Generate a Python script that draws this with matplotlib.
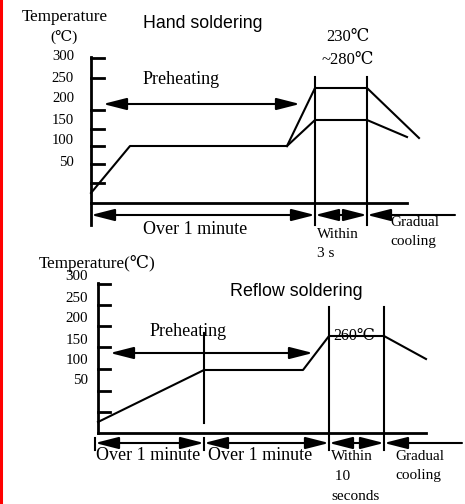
import matplotlib.pyplot as plt

# ---- data (schematic, in drawing units of the original figure) ----
temp_labels = ["300", "250", "200", "150", "100", "50"]

# hand soldering profile
hand_x = [91, 130, 287]
hand_y = [193, 146, 146]
hand_upper_x = [287, 315, 367, 419]
hand_upper_y = [146, 88, 88, 138]
hand_lower_x = [287, 315, 367, 407]
hand_lower_y = [146, 120, 120, 137]
hand_label_y = [57, 78, 99, 120, 141, 162]
hand_ticks = [58, 78, 110, 129, 146, 164, 183]
hand_stages = [91, 315, 367, 455]
hand_stage_text = ["Over 1 minute", "Within\n3 s", "Gradual\ncooling"]

# reflow soldering profile
reflow_x = [98, 204, 303, 329, 384, 426]
reflow_y = [422, 370, 370, 336, 336, 359]
reflow_label_y = [277, 298, 319, 340, 361, 381]
reflow_ticks = [284, 305, 326, 347, 369, 391, 412]
reflow_stages = [95, 204, 329, 384, 462]
reflow_stage_text = ["Over 1 minute", "Over 1 minute", "Within\n 10\nseconds", "Gradual\ncooling"]

serif = ["Liberation Serif", "DejaVu Serif", "Noto Sans CJK SC"]
sans = ["Liberation Sans", "DejaVu Sans"]
lw = 1.5
k = "black"

fig = plt.figure(figsize=(4.65, 5.04), dpi=100)
ax = fig.add_axes([0, 0, 1, 1])
ax.set_xlim(0, 465)
ax.set_ylim(504, 0)
ax.axis("off")

# red margin line on the left
ax.plot([1, 1], [0, 504], color="red", lw=2.2)


def arrow(x0, x1, y, style="<|-|>"):
    ax.annotate("", xy=(x1, y), xytext=(x0, y),
                arrowprops=dict(arrowstyle=style + ",head_length=1.1,head_width=0.28",
                                color=k, lw=lw, shrinkA=0, shrinkB=0,
                                mutation_scale=13))


def txt(x, y, s, size=11, fam=serif, ha="left", ls=1.25):
    ax.text(x, y, s, fontsize=size, family=fam, ha=ha, va="center",
            color=k, linespacing=ls)


# ================= Hand soldering =================
txt(22, 17, "Temperature", 12.3)
txt(50, 37, "(\u2103)", 11)
for lab, y in zip(temp_labels, hand_label_y):
    txt(74, y, lab, 10.6, ha="right")
ax.plot([91, 91], [57, 225], color=k, lw=2)
for y in hand_ticks:
    ax.plot([91, 104], [y, y], color=k, lw=2)
ax.plot(hand_x, hand_y, color=k, lw=lw)
ax.plot(hand_upper_x, hand_upper_y, color=k, lw=lw)
ax.plot(hand_lower_x, hand_lower_y, color=k, lw=lw)
for x in hand_stages[1:3]:
    ax.plot([x, x], [77, 225], color=k, lw=lw)
ax.plot([91, 407], [203, 203], color=k, lw=2)

arrow(103, 300, 104)
txt(143, 79, "Preheating", 13)
txt(143, 23, "Hand soldering", 12.8, fam=sans)
txt(348, 37, "230\u2103", 12, ha="center")
txt(348, 60, "~280\u2103", 12, ha="center")

arrow(hand_stages[0], hand_stages[1], 215)
arrow(hand_stages[1], hand_stages[2], 215)
arrow(hand_stages[2], hand_stages[3], 215, style="<|-")
txt(195, 229, hand_stage_text[0], 13, ha="center")
txt(317, 244, hand_stage_text[1], 11, ls=1.55)
txt(390, 232, hand_stage_text[2], 11, ls=1.65)

# ================= Reflow soldering =================
txt(39, 263, "Temperature(\u2103)", 12.3)
for lab, y in zip(temp_labels, reflow_label_y):
    txt(88, y, lab, 10.8, ha="right")
ax.plot([98, 98], [283, 433], color=k, lw=2)
for y in reflow_ticks:
    ax.plot([98, 110], [y, y], color=k, lw=2)
ax.plot(reflow_x, reflow_y, color=k, lw=lw)
ax.plot([204, 204], [333, 423], color=k, lw=lw)
for x in reflow_stages[2:4]:
    ax.plot([x, x], [307, 450], color=k, lw=lw)
for x in reflow_stages[:2]:
    ax.plot([x, x], [438, 450], color=k, lw=lw)
ax.plot([98, 426], [433, 433], color=k, lw=2)

arrow(110, 313, 353)
txt(150, 331, "Preheating", 13)
txt(230, 292, "Reflow soldering", 12.9, fam=sans)
txt(333, 336, "260\u2103", 11.5)

arrow(reflow_stages[0], reflow_stages[1], 443)
arrow(reflow_stages[1], reflow_stages[2], 443)
arrow(reflow_stages[2], reflow_stages[3], 443)
arrow(reflow_stages[3], reflow_stages[4], 443, style="<|-")
txt(148, 456, reflow_stage_text[0], 13, ha="center")
txt(260, 456, reflow_stage_text[1], 13, ha="center")
txt(331, 476, reflow_stage_text[2], 11, ls=1.7)
txt(395, 466, reflow_stage_text[3], 11, ls=1.65)

plt.savefig("out.png", dpi=100)
plt.close()
